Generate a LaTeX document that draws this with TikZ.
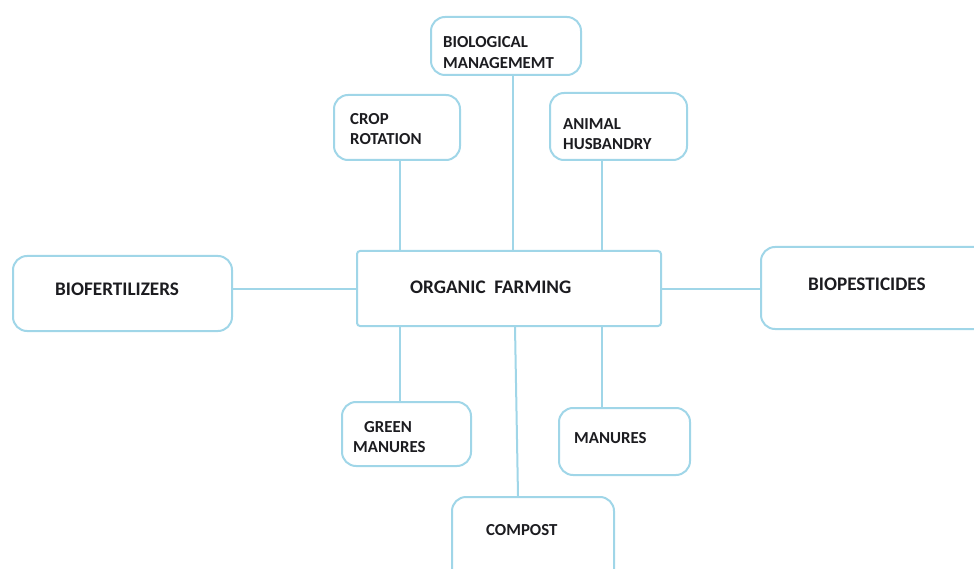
\documentclass[tikz,border=0pt]{standalone}
\usepackage{fontspec}
\setmainfont{Carlito}
\definecolor{linkblue}{RGB}{160,214,232}
\definecolor{inkdark}{RGB}{28,28,32}
\tikzset{
  box/.style={draw=linkblue, line width=2pt, rounded corners=14pt, fill=white,
              inner sep=0pt, anchor=center},
  hub/.style={box, rounded corners=3pt},
  lbl/.style={inner sep=0pt, anchor=west, align=left, text=inkdark,
              font=\bfseries\fontsize{16.8}{20.5}\selectfont},
  biglbl/.style={lbl, font=\bfseries\fontsize{19.2}{22}\selectfont},
  link/.style={draw=linkblue, line width=2pt},
}
\begin{document}
\begin{tikzpicture}[x=1pt,y=-1pt]
\useasboundingbox (0,0) rectangle (974,569);
\clip (0,0) rectangle (974,569);

% boxes
\node[hub, minimum width=304pt, minimum height=75pt] (org) at (509,288.5) {};
\node[box, minimum width=150pt, minimum height=58pt] (bio) at (506,46) {};
\node[box, minimum width=126pt, minimum height=65pt] (crop) at (397,127.5) {};
\node[box, minimum width=137pt, minimum height=67pt] (animal) at (618.5,126.5) {};
\node[box, minimum width=219pt, minimum height=75pt] (bfert) at (122.5,293.5) {};
\node[box, minimum width=229pt, minimum height=82pt] (bpest) at (875.5,288) {};
\node[box, minimum width=129pt, minimum height=64pt] (green) at (406.5,434) {};
\node[box, minimum width=131pt, minimum height=67pt] (manure) at (624.5,441.5) {};
\node[box, minimum width=162pt, minimum height=93pt] (compost) at (533,543.5) {};

% labels
\node[lbl] (tbio) at (443,52.5) {BIOLOGICAL\\MANAGEMEMT};
\node[lbl] (tcrop) at (350,129) {CROP\\ROTATION};
\node[lbl] (tanimal) at (563,134) {ANIMAL\\HUSBANDRY};
\node[biglbl] (torg) at (410,287) {ORGANIC\ \ FARMING};
\node[biglbl] (tbfert) at (55,289) {BIOFERTILIZERS};
\node[biglbl] (tbpest) at (808,284) {BIOPESTICIDES};
\node[lbl] (tgreen) at (353,437) {\hspace*{11pt}GREEN\\MANURES};
\node[lbl] (tmanure) at (574,438) {MANURES};
\node[lbl] (tcompost) at (486,530) {COMPOST};

% connectors
\draw[link] (bfert.east |- org.west) -- (org.west);
\draw[link] (org.east) -- (org.east -| bpest.west);
\draw[link] ([xshift=3pt]crop.south) -- ([xshift=3pt]crop.south |- org.north);
\draw[link] ([xshift=7pt]bio.south) -- ([xshift=7pt]bio.south |- org.north);
\draw[link] ([xshift=-16.5pt]animal.south) -- ([xshift=-16.5pt]animal.south |- org.north);
\draw[link] ([xshift=-6.5pt]green.north |- org.south) -- ([xshift=-6.5pt]green.north);
\draw[link] ([xshift=-22.5pt]manure.north |- org.south) -- ([xshift=-22.5pt]manure.north);
\draw[link] ([xshift=-18pt]compost.north |- org.south) -- ([xshift=-15pt]compost.north);
\end{tikzpicture}
\end{document}
